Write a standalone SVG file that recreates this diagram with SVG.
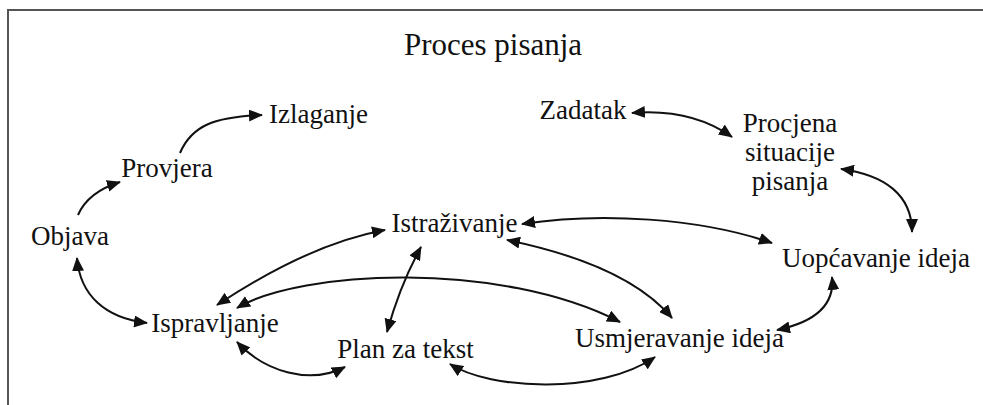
<svg xmlns="http://www.w3.org/2000/svg" width="983" height="405" viewBox="0 0 983 405">
<style>
text{font-family:'Liberation Serif','Times New Roman',Times,Tinos,'DejaVu Serif',serif;font-size:27px;fill:#111;text-anchor:middle}
.title{font-size:31px}
.c{fill:none;stroke:#111;stroke-width:2}
.frame{fill:none;stroke:#555;stroke-width:2}
</style>
<defs>
<marker id="ah" markerUnits="userSpaceOnUse" markerWidth="14" markerHeight="12" viewBox="0 0 14 12" refX="13" refY="6" orient="auto-start-reverse">
<path d="M0,0 L14,6 L0,12 z" fill="#111"/>
</marker>
</defs>
<rect width="983" height="405" fill="#fff"/>
<path class="frame" d="M983,10 H8 V405"/>
<g font-family="Liberation Serif, Times New Roman, serif">
<text class="title" x="493" y="55">Proces pisanja</text>
<g id="connectors">
<path class="c" marker-end="url(#ah)" d="M78,215 Q88,192 120,182"/>
<path class="c" marker-end="url(#ah)" d="M180,153 C192,125 215,117 262,115"/>
<path class="c" marker-start="url(#ah)" marker-end="url(#ah)" d="M632,113 C670,110 705,118 732,137"/>
<path class="c" marker-start="url(#ah)" marker-end="url(#ah)" d="M841,169 C885,175 912,195 912,232"/>
<path class="c" marker-start="url(#ah)" marker-end="url(#ah)" d="M522,224 C600,212 700,218 772,243"/>
<path class="c" marker-start="url(#ah)" marker-end="url(#ah)" d="M507,240 C580,255 640,280 672,318"/>
<path class="c" marker-start="url(#ah)" marker-end="url(#ah)" d="M217,305 C270,270 330,240 385,230"/>
<path class="c" marker-start="url(#ah)" marker-end="url(#ah)" d="M237,308 C300,270 500,260 620,322"/>
<path class="c" marker-start="url(#ah)" marker-end="url(#ah)" d="M421,247 Q400,285 387,332"/>
<path class="c" marker-start="url(#ah)" marker-end="url(#ah)" d="M77,258 C80,295 105,318 147,323"/>
<path class="c" marker-start="url(#ah)" marker-end="url(#ah)" d="M237,342 C265,372 310,385 345,367"/>
<path class="c" marker-start="url(#ah)" marker-end="url(#ah)" d="M450,364 C490,390 600,395 655,357"/>
<path class="c" marker-start="url(#ah)" marker-end="url(#ah)" d="M832,277 C835,305 815,322 777,330"/>
</g>
<g id="izlaganje"><text x="318.5" y="123">Izlaganje</text></g>
<g id="provjera"><text x="167" y="177">Provjera</text></g>
<g id="objava"><text x="70" y="245">Objava</text></g>
<g id="ispravljanje"><text x="215" y="332">Ispravljanje</text></g>
<g id="plan"><text x="405.5" y="358">Plan za tekst</text></g>
<g id="istrazivanje"><text x="454.5" y="232">Istraživanje</text></g>
<g id="usmjeravanje"><text x="679.5" y="347">Usmjeravanje ideja</text></g>
<g id="uopcavanje"><text x="876" y="267">Uopćavanje ideja</text></g>
<g id="zadatak"><text x="583" y="119">Zadatak</text></g>
<g id="procjena"><text x="790" y="132">Procjena</text><text x="790" y="161">situacije</text><text x="790" y="190">pisanja</text></g>
</g>
</svg>
